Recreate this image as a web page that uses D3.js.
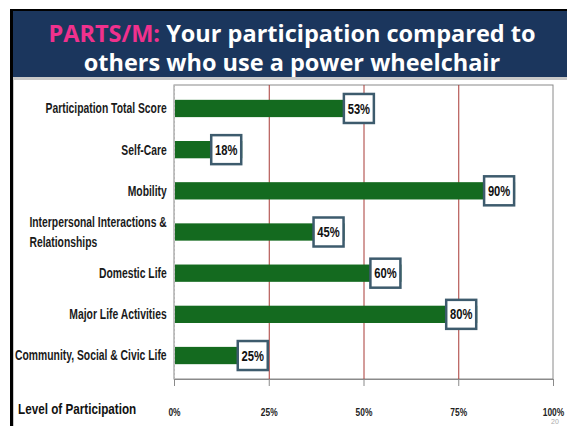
<!DOCTYPE html>
<html>
<head>
<meta charset="utf-8">
<script src="https://cdn.jsdelivr.net/npm/d3@7"></script>
<style>
  body { margin: 0; background: #fff; }
  svg { display: block; }
</style>
</head>
<body>
<div id="chart"></div>
<script>
// data
var categories = [
    "Participation Total Score",
    "Self-Care",
    "Mobility",
    "Interpersonal Interactions &|Relationships",
    "Domestic Life",
    "Major Life Activities",
    "Community, Social & Civic Life"
];
var values = [53, 18, 90, 45, 60, 80, 25];
var tickValues = [0, 25, 50, 75, 100];

var width = 567,
    height = 426;

// no narrow face installed, so squeeze Liberation Sans horizontally
var narrow = "'Liberation Sans', Arial, sans-serif";
var squeeze = 0.8;

var svg = d3.select("#chart").append("svg")
    .attr("width", width)
    .attr("height", height);

// slide frame
svg.append("rect").attr("x", 10).attr("y", 9).attr("width", width - 10).attr("height", height - 9).attr("fill", "#000");
svg.append("rect").attr("x", 13).attr("y", 11).attr("width", width - 13).attr("height", 66).attr("fill", "#1b365d");
svg.append("rect").attr("x", 13).attr("y", 77).attr("width", width - 13).attr("height", height - 77).attr("fill", "#c9c9c9");
svg.append("rect").attr("x", 14).attr("y", 80).attr("width", width - 14).attr("height", height - 80).attr("fill", "#fff");

// title
var title = svg.append("text")
    .attr("x", 292)
    .attr("y", 42)
    .attr("text-anchor", "middle")
    .attr("font-family", "'Open Sans', sans-serif")
    .attr("font-weight", "bold")
    .attr("font-size", 23.5)
    .attr("fill", "#fff");
title.append("tspan").attr("fill", "#f0318d").text("PARTS/M:");
title.append("tspan").text(" Your participation compared to");
svg.append("text")
    .attr("x", 292)
    .attr("y", 71)
    .attr("text-anchor", "middle")
    .attr("font-family", "'Open Sans', sans-serif")
    .attr("font-weight", "bold")
    .attr("font-size", 23.5)
    .attr("fill", "#fff")
    .text("others who use a power wheelchair");

// plot
var plot = { left: 174, right: 553, top: 85, bottom: 379 };

var x = d3.scaleLinear()
    .domain([0, 100])
    .range([plot.left, plot.right]);

var y = d3.scaleBand()
    .domain(categories)
    .range([plot.top, plot.bottom])
    .paddingInner(0.58)
    .paddingOuter(0.36);

svg.append("rect")
    .attr("x", plot.left)
    .attr("y", plot.top)
    .attr("width", plot.right - plot.left)
    .attr("height", plot.bottom - plot.top)
    .attr("fill", "#fff")
    .attr("stroke", "#8a8a8a")
    .attr("stroke-width", 1);

svg.append("g")
    .selectAll("line")
    .data([25, 50, 75])
    .enter().append("line")
    .attr("x1", function(d) { return x(d) + 0.5; })
    .attr("x2", function(d) { return x(d) + 0.5; })
    .attr("y1", plot.top)
    .attr("y2", plot.bottom)
    .attr("stroke", "#a83a36")
    .attr("stroke-width", 1);

svg.append("line")
    .attr("x1", plot.left + 0.5).attr("x2", plot.left + 0.5)
    .attr("y1", plot.top).attr("y2", plot.bottom)
    .attr("stroke", "#b5b5b5")
    .attr("stroke-dasharray", "2,2");

// x axis
var xAxis = svg.append("g")
    .attr("transform", "translate(0," + plot.bottom + ")")
    .call(d3.axisBottom(x)
        .tickValues(tickValues)
        .tickSize(7)
        .tickPadding(23)
        .tickFormat(function(d) { return d + "%"; }));

xAxis.select(".domain").attr("stroke", "#8a8a8a");
xAxis.selectAll(".tick line").attr("stroke", "#8a8a8a");
xAxis.selectAll(".tick text")
    .attr("font-family", narrow)
    .attr("font-size", 10.5)
    .attr("font-weight", "bold")
    .attr("fill", "#222")
    .attr("transform", "scale(" + squeeze + ",1)");

svg.append("g")
    .attr("transform", "translate(18,414) scale(0.78,1)")
    .append("text")
    .attr("font-family", narrow)
    .attr("font-size", 15)
    .attr("font-weight", "bold")
    .attr("fill", "#111")
    .text("Level of Participation");

svg.append("text")
    .attr("x", 551)
    .attr("y", 424)
    .attr("font-family", "sans-serif")
    .attr("font-size", 7)
    .attr("fill", "#aaa")
    .text("20");

// bars
svg.append("g")
    .selectAll("rect")
    .data(values)
    .enter().append("rect")
    .attr("x", x(0) + 1)
    .attr("y", function(d, i) { return y(categories[i]); })
    .attr("width", function(d) { return x(d) - x(0) - 1; })
    .attr("height", y.bandwidth())
    .attr("fill", "#146a1f");

// category labels, right edge at x = 167
var labelSqueeze = 0.74;
var labels = svg.append("g")
    .attr("font-family", narrow)
    .attr("font-size", 14)
    .attr("font-weight", "bold")
    .attr("fill", "#1a1a1a");

categories.forEach(function(c) {
    var lines = c.split("|");
    var cy = y(c) + y.bandwidth() / 2;
    var g = labels.append("g");
    var t = g.append("text")
        .attr("y", -(lines.length - 1) * 10)
        .attr("dy", "0.35em");
    lines.forEach(function(l, j) {
        t.append("tspan")
            .attr("x", 0)
            .attr("dy", j === 0 ? null : 20)
            .text(l);
    });
    var w = t.node().getBBox().width * labelSqueeze;
    g.attr("transform", "translate(" + (167 - w) + "," + cy + ") scale(" + labelSqueeze + ",1)");
});

// value boxes
var boxes = svg.append("g")
    .selectAll("g")
    .data(values)
    .enter().append("g")
    .attr("transform", function(d, i) {
        return "translate(" + x(d) + "," + (y(categories[i]) + y.bandwidth() / 2) + ")";
    });

boxes.append("rect")
    .attr("x", -31)
    .attr("y", -14.5)
    .attr("width", 30)
    .attr("height", 29)
    .attr("fill", "#fff")
    .attr("stroke", "#3d5b6d")
    .attr("stroke-width", 2.5);

boxes.append("text")
    .attr("transform", "translate(-16,0) scale(" + squeeze + ",1)")
    .attr("dy", "0.36em")
    .attr("text-anchor", "middle")
    .attr("font-family", narrow)
    .attr("font-size", 14)
    .attr("font-weight", "bold")
    .attr("fill", "#111")
    .text(function(d) { return d + "%"; });
</script>
</body>
</html>
